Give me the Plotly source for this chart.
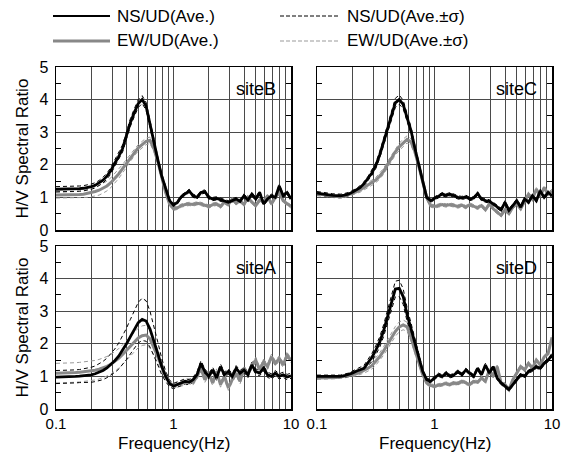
import numpy as np
import plotly.graph_objects as go

W, H = 561, 461

# frequency sampling (Hz), 30 points per decade from 0.1 to 10
freq = np.logspace(-1, 1, 61)

# ---- siteB (top-left) ----
B_NS = [1.25, 1.25, 1.25, 1.25, 1.25, 1.26, 1.27, 1.28, 1.30, 1.33,
        1.37, 1.44, 1.53, 1.65, 1.82, 2.05, 2.25, 2.50, 2.90, 3.30,
        3.60, 3.88, 4.00, 3.80, 3.25, 2.65, 2.15, 1.65, 1.25, 0.90,
        0.76, 0.85, 1.02, 1.10, 1.20, 1.05, 1.00, 1.15, 1.18, 1.00,
        0.95, 0.97, 0.93, 0.88, 0.85, 0.90, 0.95, 0.88, 1.05, 0.92,
        1.10, 0.95, 1.15, 0.80, 0.95, 1.05, 1.00, 1.35, 1.05, 1.15, 0.95]
B_EW = [1.07, 1.07, 1.07, 1.07, 1.08, 1.08, 1.09, 1.10, 1.12, 1.15,
        1.18, 1.22, 1.28, 1.35, 1.45, 1.58, 1.72, 1.88, 2.05, 2.20,
        2.38, 2.52, 2.62, 2.72, 2.75, 2.50, 2.10, 1.60, 1.15, 0.80,
        0.65, 0.68, 0.75, 0.78, 0.80, 0.78, 0.82, 0.80, 0.75, 0.72,
        0.78, 0.80, 0.72, 0.85, 0.78, 0.95, 0.82, 0.90, 0.78, 1.00,
        0.85, 0.75, 0.92, 0.85, 1.05, 0.80, 1.00, 1.15, 0.90, 0.80, 0.72]
B_NS_SD = [0.08, 0.08, 0.08, 0.08, 0.08, 0.08, 0.08, 0.08, 0.08, 0.08,
           0.08, 0.08, 0.09, 0.09, 0.10, 0.10, 0.10, 0.11, 0.11, 0.12,
           0.12, 0.12, 0.12, 0.12, 0.11, 0.10, 0.09, 0.08, 0.07, 0.06,
           0.05, 0.05, 0.05, 0.05, 0.05, 0.05, 0.05, 0.05, 0.05, 0.05,
           0.05, 0.05, 0.05, 0.05, 0.05, 0.05, 0.05, 0.05, 0.05, 0.05,
           0.05, 0.05, 0.05, 0.05, 0.05, 0.05, 0.05, 0.05, 0.05, 0.05, 0.05]
B_EW_SD = [0.09, 0.09, 0.09, 0.09, 0.10, 0.10, 0.10, 0.11, 0.12, 0.13,
           0.14, 0.15, 0.15, 0.15, 0.15, 0.15, 0.14, 0.13, 0.12, 0.11,
           0.10, 0.10, 0.10, 0.10, 0.10, 0.09, 0.08, 0.07, 0.06, 0.05,
           0.05, 0.05, 0.05, 0.05, 0.05, 0.05, 0.05, 0.05, 0.05, 0.05,
           0.05, 0.05, 0.05, 0.05, 0.05, 0.05, 0.05, 0.05, 0.05, 0.05,
           0.05, 0.05, 0.05, 0.05, 0.05, 0.05, 0.05, 0.05, 0.05, 0.05, 0.05]

# ---- siteC (top-right) ----
C_NS = [1.13, 1.12, 1.10, 1.08, 1.06, 1.05, 1.05, 1.07, 1.10, 1.16,
        1.22, 1.30, 1.42, 1.57, 1.75, 1.97, 2.30, 2.70, 3.08, 3.50,
        3.90, 4.00, 3.85, 3.45, 3.05, 2.50, 2.00, 1.50, 1.00, 0.90,
        0.97, 1.05, 1.10, 1.06, 1.10, 1.05, 1.00, 0.98, 1.02, 0.95,
        0.98, 1.12, 0.95, 0.90, 0.88, 0.80, 0.70, 0.62, 0.85, 0.60,
        0.75, 0.90, 0.70, 0.95, 0.85, 1.05, 0.90, 1.20, 1.00, 1.15, 1.05]
C_EW = [1.10, 1.10, 1.08, 1.06, 1.04, 1.02, 1.02, 1.04, 1.08, 1.12,
        1.17, 1.23, 1.30, 1.37, 1.45, 1.53, 1.65, 1.80, 2.00, 2.20,
        2.40, 2.55, 2.68, 2.78, 2.70, 2.40, 1.95, 1.45, 1.00, 0.75,
        0.72, 0.75, 0.78, 0.75, 0.78, 0.75, 0.72, 0.76, 0.70, 0.78,
        0.72, 0.68, 0.75, 0.62, 0.80, 0.65, 0.55, 0.45, 0.62, 0.50,
        0.70, 0.80, 0.65, 0.90, 1.10, 0.95, 1.25, 1.05, 1.30, 1.10, 1.20]
C_NS_SD = [0.05, 0.05, 0.05, 0.05, 0.05, 0.05, 0.05, 0.05, 0.05, 0.05,
           0.05, 0.06, 0.06, 0.07, 0.08, 0.09, 0.10, 0.11, 0.12, 0.13,
           0.14, 0.14, 0.13, 0.12, 0.11, 0.10, 0.09, 0.08, 0.06, 0.05,
           0.05, 0.05, 0.05, 0.05, 0.05, 0.05, 0.05, 0.05, 0.05, 0.05,
           0.05, 0.05, 0.05, 0.05, 0.05, 0.05, 0.05, 0.05, 0.05, 0.05,
           0.05, 0.05, 0.05, 0.05, 0.05, 0.05, 0.05, 0.05, 0.05, 0.05, 0.05]
C_EW_SD = [0.05, 0.05, 0.05, 0.05, 0.05, 0.05, 0.05, 0.05, 0.05, 0.06,
           0.06, 0.07, 0.07, 0.08, 0.08, 0.08, 0.09, 0.09, 0.10, 0.10,
           0.10, 0.11, 0.11, 0.11, 0.10, 0.09, 0.08, 0.07, 0.06, 0.05,
           0.05, 0.05, 0.05, 0.05, 0.05, 0.05, 0.05, 0.05, 0.05, 0.05,
           0.05, 0.05, 0.05, 0.05, 0.05, 0.05, 0.05, 0.05, 0.05, 0.05,
           0.05, 0.05, 0.05, 0.05, 0.05, 0.05, 0.05, 0.05, 0.05, 0.05, 0.05]

# ---- siteA (bottom-left) ----
A_NS = [0.98, 0.98, 0.99, 0.99, 1.00, 1.00, 1.01, 1.02, 1.03, 1.05,
        1.08, 1.12, 1.18, 1.26, 1.36, 1.48, 1.62, 1.80, 2.00, 2.22,
        2.45, 2.65, 2.75, 2.70, 2.45, 2.10, 1.70, 1.30, 1.00, 0.78,
        0.70, 0.75, 0.80, 0.85, 0.82, 0.90, 1.05, 1.40, 1.15, 1.00,
        1.20, 0.95, 1.30, 1.05, 1.15, 1.00, 1.25, 1.10, 1.20, 1.05,
        1.35, 1.15, 1.10, 1.25, 1.05, 1.00, 1.10, 1.00, 1.05, 0.98, 1.02]
A_EW = [1.10, 1.10, 1.10, 1.10, 1.11, 1.12, 1.13, 1.14, 1.15, 1.17,
        1.19, 1.22, 1.26, 1.31, 1.37, 1.45, 1.55, 1.67, 1.80, 1.95,
        2.08, 2.18, 2.25, 2.27, 2.15, 1.90, 1.60, 1.30, 1.02, 0.80,
        0.72, 0.75, 0.78, 0.80, 0.85, 0.82, 1.00, 1.25, 0.90, 1.10,
        0.80, 1.15, 0.75, 1.00, 0.65, 0.90, 1.10, 0.85, 1.25, 1.05,
        1.35, 1.50, 1.20, 1.45, 1.30, 1.60, 1.40, 1.55, 1.35, 1.65, 1.50]
A_NS_SD = [0.20, 0.20, 0.20, 0.20, 0.20, 0.20, 0.20, 0.21, 0.22, 0.23,
           0.24, 0.26, 0.28, 0.30, 0.33, 0.36, 0.40, 0.44, 0.48, 0.53,
           0.58, 0.62, 0.65, 0.62, 0.55, 0.45, 0.35, 0.25, 0.16, 0.10,
           0.08, 0.08, 0.08, 0.08, 0.08, 0.08, 0.08, 0.08, 0.08, 0.08,
           0.08, 0.08, 0.08, 0.08, 0.08, 0.08, 0.08, 0.08, 0.08, 0.08,
           0.08, 0.08, 0.08, 0.08, 0.08, 0.08, 0.08, 0.08, 0.08, 0.08, 0.08]
A_EW_SD = [0.30, 0.30, 0.30, 0.30, 0.30, 0.30, 0.30, 0.30, 0.30, 0.30,
           0.30, 0.30, 0.30, 0.30, 0.30, 0.30, 0.30, 0.30, 0.30, 0.30,
           0.30, 0.30, 0.30, 0.30, 0.28, 0.24, 0.20, 0.16, 0.12, 0.09,
           0.08, 0.08, 0.08, 0.08, 0.08, 0.08, 0.08, 0.08, 0.08, 0.08,
           0.08, 0.08, 0.08, 0.08, 0.08, 0.08, 0.08, 0.08, 0.08, 0.08,
           0.08, 0.08, 0.08, 0.08, 0.08, 0.08, 0.08, 0.08, 0.08, 0.08, 0.08]

# ---- siteD (bottom-right) ----
D_NS = [1.00, 1.00, 1.00, 0.99, 0.99, 0.99, 1.00, 1.02, 1.05, 1.10,
        1.16, 1.20, 1.25, 1.42, 1.58, 1.80, 2.05, 2.40, 2.85, 3.30,
        3.68, 3.70, 3.45, 2.90, 2.45, 2.00, 1.55, 1.15, 0.90, 0.85,
        0.95, 1.05, 1.00, 1.10, 1.00, 1.05, 1.15, 1.05, 1.20, 1.10,
        1.00, 1.25, 1.05, 1.35, 1.10, 1.30, 0.95, 0.80, 0.70, 0.60,
        0.75, 0.90, 1.05, 1.00, 1.15, 1.20, 1.30, 1.25, 1.40, 1.50, 1.65]
D_EW = [0.95, 0.95, 0.95, 0.95, 0.96, 0.97, 0.98, 1.00, 1.02, 1.05,
        1.08, 1.12, 1.18, 1.25, 1.33, 1.45, 1.60, 1.78, 1.98, 2.18,
        2.38, 2.52, 2.58, 2.52, 2.20, 1.80, 1.40, 1.05, 0.80, 0.72,
        0.70, 0.72, 0.75, 0.78, 0.75, 0.80, 0.78, 0.85, 0.80, 0.75,
        0.85, 0.82, 0.95, 0.85, 1.20, 1.00, 1.30, 0.80, 0.75, 0.60,
        0.90, 1.10, 1.30, 1.20, 1.40, 1.25, 1.50, 1.35, 1.60, 1.70, 2.20]
D_NS_SD = [0.04, 0.04, 0.04, 0.04, 0.04, 0.04, 0.04, 0.05, 0.05, 0.06,
           0.07, 0.08, 0.09, 0.10, 0.12, 0.14, 0.16, 0.18, 0.20, 0.22,
           0.24, 0.25, 0.24, 0.21, 0.17, 0.13, 0.10, 0.07, 0.05, 0.05,
           0.05, 0.05, 0.05, 0.05, 0.05, 0.05, 0.05, 0.05, 0.05, 0.05,
           0.05, 0.05, 0.05, 0.05, 0.05, 0.05, 0.05, 0.05, 0.05, 0.05,
           0.05, 0.05, 0.05, 0.05, 0.05, 0.05, 0.05, 0.05, 0.05, 0.05, 0.05]
D_EW_SD = [0.04, 0.04, 0.04, 0.04, 0.04, 0.04, 0.04, 0.05, 0.05, 0.06,
           0.06, 0.07, 0.08, 0.09, 0.10, 0.11, 0.12, 0.13, 0.14, 0.15,
           0.15, 0.15, 0.15, 0.14, 0.12, 0.10, 0.08, 0.06, 0.05, 0.05,
           0.05, 0.05, 0.05, 0.05, 0.05, 0.05, 0.05, 0.05, 0.05, 0.05,
           0.05, 0.05, 0.05, 0.05, 0.05, 0.05, 0.05, 0.05, 0.05, 0.05,
           0.05, 0.05, 0.05, 0.05, 0.05, 0.05, 0.05, 0.05, 0.05, 0.05, 0.05]

site_names = ["siteB", "siteC", "siteA", "siteD"]
site_data = {
    "siteB": (B_NS, B_EW, B_NS_SD, B_EW_SD),
    "siteC": (C_NS, C_EW, C_NS_SD, C_EW_SD),
    "siteA": (A_NS, A_EW, A_NS_SD, A_EW_SD),
    "siteD": (D_NS, D_EW, D_NS_SD, D_EW_SD),
}

x_tickvals = [0.1, 0.2, 0.3, 0.4, 0.5, 0.6, 0.7, 0.8, 0.9,
              1, 2, 3, 4, 5, 6, 7, 8, 9, 10]
x_ticktext = ["0.1", "", "", "", "", "", "", "", "",
              "1", "", "", "", "", "", "", "", "", "10"]
y_tickvals = [0, 1, 2, 3, 4, 5]
legend_labels = ["NS/UD(Ave.)", "EW/UD(Ave.)", "NS/UD(Ave.±σ)", "EW/UD(Ave.±σ)"]

FONT = "Liberation Sans, Arial, Helvetica, sans-serif"
BLACK = "#000000"
GRAY = "#888888"
LGRAY = "#999999"
GRID = "#4a4a4a"

def px(x):
    return x / W

def py(y):
    return 1 - y / H

# panel pixel boxes: (left, right, top, bottom)
panels = {
    "siteB": (56, 291, 67, 230),
    "siteC": (317, 552, 67, 230),
    "siteA": (56, 291, 246, 409),
    "siteD": (317, 552, 246, 409),
}

fig = go.Figure()
layout = dict(
    template="none",
    width=W, height=H,
    margin=dict(l=0, r=0, t=0, b=0, autoexpand=False),
    paper_bgcolor="white", plot_bgcolor="white",
    showlegend=False,
    font=dict(family=FONT, color="black", size=14),
)

f = np.asarray(freq)
for k, name in enumerate(site_names):
    ns, ew, ns_sd, ew_sd = [np.asarray(a) for a in site_data[name]]
    xa = "x" if k == 0 else f"x{k+1}"
    ya = "y" if k == 0 else f"y{k+1}"
    # +/- sigma dashed
    for sgn in (1, -1):
        fig.add_trace(go.Scatter(x=f, y=ew + sgn * ew_sd, mode="lines",
                                 line=dict(color=LGRAY, width=1, dash="4px,3px"),
                                 xaxis=xa, yaxis=ya, hoverinfo="skip"))
    for sgn in (1, -1):
        fig.add_trace(go.Scatter(x=f, y=ns + sgn * ns_sd, mode="lines",
                                 line=dict(color=BLACK, width=1, dash="4px,3px"),
                                 xaxis=xa, yaxis=ya, hoverinfo="skip"))
    fig.add_trace(go.Scatter(x=f, y=ew, mode="lines",
                             line=dict(color=GRAY, width=3),
                             xaxis=xa, yaxis=ya, name=legend_labels[1]))
    fig.add_trace(go.Scatter(x=f, y=ns, mode="lines",
                             line=dict(color=BLACK, width=2.8),
                             xaxis=xa, yaxis=ya, name=legend_labels[0]))

    l, r, t, b = panels[name]
    bottom_row = name in ("siteA", "siteD")
    left_col = name in ("siteB", "siteA")
    xkey = "xaxis" if k == 0 else f"xaxis{k+1}"
    ykey = "yaxis" if k == 0 else f"yaxis{k+1}"
    layout[xkey] = dict(
        type="log", range=[-1, 1], domain=[px(l), px(r)], anchor=ya,
        automargin=False, ticklabeloverflow="allow",
        tickmode="array", tickvals=x_tickvals, ticktext=x_ticktext,
        showticklabels=bottom_row, ticks="", ticklen=0,
        showgrid=True, gridcolor=GRID, gridwidth=1,
        showline=True, linecolor="black", linewidth=1.5, mirror=True,
        zeroline=False, tickfont=dict(size=15, family=FONT, color="black"),
        ticklabelstandoff=0,
    )
    layout[ykey] = dict(
        range=[0, 5], domain=[py(b), py(t)], anchor=xa,
        automargin=False, ticklabeloverflow="allow",
        tickmode="array", tickvals=y_tickvals,
        showticklabels=left_col, ticks="", ticklen=0,
        showgrid=True, gridcolor=GRID, gridwidth=1.3,
        showline=True, linecolor="black", linewidth=1.5, mirror="allticks",
        zeroline=False, tickfont=dict(size=16, family=FONT, color="black"),
        ticklabelstandoff=3,
        minor=dict(tickmode="array", tickvals=[0.5, 1.5, 2.5, 3.5, 4.5],
                   ticks="inside", ticklen=5, tickcolor="black", tickwidth=1,
                   showgrid=False),
    )

annotations = []
for name in site_names:
    l, r, t, b = panels[name]
    annotations.append(dict(x=px(r - 13), y=py(t + 22), xref="paper", yref="paper",
                            text=name, showarrow=False, xanchor="right", yanchor="middle",
                            font=dict(size=18, family=FONT, color="black")))
# axis titles
for (t, b) in [(67, 230), (246, 409)]:
    annotations.append(dict(x=px(22), y=py((t + b) / 2), xref="paper", yref="paper",
                            text="H/V Spectral Ratio", textangle=-90, showarrow=False,
                            xanchor="center", yanchor="middle",
                            font=dict(size=17, family=FONT, color="black")))
for (l, r) in [(56, 291), (317, 552)]:
    annotations.append(dict(x=px((l + r) / 2), y=py(443), xref="paper", yref="paper",
                            text="Frequency(Hz)", showarrow=False,
                            xanchor="center", yanchor="middle",
                            font=dict(size=17, family=FONT, color="black")))

# legend drawn manually
shapes = []
leg = [
    (53, 110, 16, legend_labels[0], dict(color=BLACK, width=2)),
    (53, 110, 41, legend_labels[1], dict(color=GRAY, width=3)),
    (280, 340, 16, legend_labels[2], dict(color=BLACK, width=1, dash="4px,2px")),
    (280, 340, 41, legend_labels[3], dict(color=LGRAY, width=1, dash="4px,2px")),
]
for x0, x1, yy, lab, ln in leg:
    shapes.append(dict(type="line", xref="paper", yref="paper",
                       x0=px(x0), x1=px(x1), y0=py(yy), y1=py(yy), line=ln))
    annotations.append(dict(x=px(x1 + 5), y=py(yy), xref="paper", yref="paper",
                            text=lab, showarrow=False, xanchor="left", yanchor="middle",
                            font=dict(size=17, family=FONT, color="black")))

layout["annotations"] = annotations
layout["shapes"] = shapes
fig.update_layout(**layout)
fig.write_html("out.html",
               config={"displayModeBar": False, "staticPlot": True},
               post_script="document.body.style.margin='0px';document.body.style.overflow='hidden';")
